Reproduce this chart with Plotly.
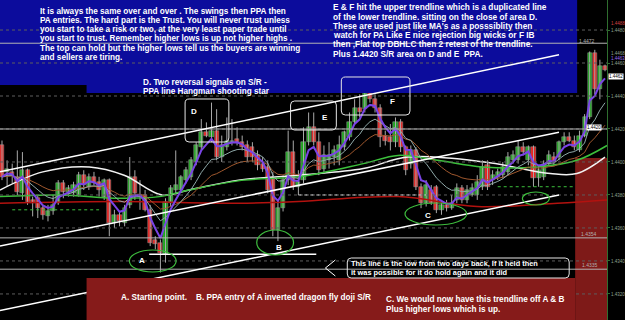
import plotly.graph_objects as go
import pandas as pd

# ---------------- data ----------------
open_ = [1.4410,1.4394,1.4394,1.4391,1.4381,1.4395,1.4377,1.4378,1.4372,1.4367,
         1.4370,1.4375,1.4387,1.4382,1.4381,1.4380,1.4392,1.4385,1.4391,1.4388,
         1.4379,1.4389,1.4363,1.4368,1.4363,1.4374,1.4391,1.4379,1.4380,1.4371,
         1.4353,1.4351,1.4344,1.4375,1.4383,1.4383,1.4389,1.4391,1.4400,1.4409,
         1.4418,1.4415,1.4419,1.4403,1.4409,1.4412,1.4414,1.4412,1.4410,1.4409,
         1.4404,1.4399,1.4397,1.4391,1.4359,1.4372,1.4389,1.4406,1.4385,1.4389,
         1.4412,1.4421,1.4412,1.4396,1.4401,1.4403,1.4401,1.4409,1.4415,1.4424,
         1.4433,1.4432,1.4442,1.4438,1.4433,1.4416,1.4415,1.4412,1.4424,1.4409,
         1.4399,1.4407,1.4385,1.4375,1.4383,1.4385,1.4371,1.4374,1.4372,1.4377,
         1.4384,1.4377,1.4380,1.4380,1.4385,1.4398,1.4389,1.4391,1.4392,1.4394,
         1.4401,1.4401,1.4409,1.4401,1.4409,1.4390,1.4391,1.4399,1.4403,1.4403,
         1.4412,1.4415,1.4413,1.4407,1.4416,1.4427,1.4466,1.4444,1.4458]
high = [1.4413,1.4401,1.4399,1.4407,1.4406,1.4396,1.4379,1.4380,1.4374,1.4374,
        1.4380,1.4389,1.4389,1.4386,1.4388,1.4394,1.4395,1.4393,1.4394,1.4391,
        1.4390,1.4390,1.4371,1.4370,1.4374,1.4403,1.4395,1.4389,1.4383,1.4374,
        1.4355,1.4353,1.4378,1.4386,1.4407,1.4392,1.4397,1.4403,1.4412,1.4426,
        1.4424,1.4436,1.4432,1.4416,1.4427,1.4426,1.4421,1.4416,1.4413,1.4412,
        1.4407,1.4403,1.4401,1.4394,1.4377,1.4392,1.4419,1.4413,1.4395,1.4421,
        1.4430,1.4430,1.4418,1.4410,1.4412,1.4410,1.4416,1.4419,1.4430,1.4438,
        1.4441,1.4445,1.4447,1.4441,1.4435,1.4419,1.4423,1.4427,1.4426,1.4410,
        1.4410,1.4409,1.4387,1.4389,1.4386,1.4386,1.4377,1.4377,1.4380,1.4387,
        1.4386,1.4386,1.4387,1.4392,1.4401,1.4401,1.4395,1.4396,1.4400,1.4406,
        1.4407,1.4413,1.4412,1.4410,1.4410,1.4398,1.4401,1.4407,1.4406,1.4413,
        1.4418,1.4418,1.4416,1.4419,1.4429,1.4467,1.4468,1.4462,1.4459]
low = [1.4389,1.4385,1.4387,1.4380,1.4377,1.4374,1.4367,1.4366,1.4365,1.4364,
       1.4368,1.4374,1.4378,1.4379,1.4379,1.4379,1.4383,1.4383,1.4386,1.4379,
       1.4377,1.4355,1.4360,1.4361,1.4361,1.4372,1.4377,1.4371,1.4370,1.4349,
       1.4347,1.4333,1.4339,1.4373,1.4381,1.4382,1.4387,1.4389,1.4398,1.4407,
       1.4415,1.4412,1.4401,1.4400,1.4407,1.4410,1.4410,1.4407,1.4400,1.4400,
       1.4395,1.4394,1.4381,1.4355,1.4352,1.4370,1.4386,1.4383,1.4380,1.4387,
       1.4410,1.4410,1.4392,1.4394,1.4396,1.4398,1.4398,1.4407,1.4413,1.4423,
       1.4427,1.4430,1.4436,1.4430,1.4409,1.4410,1.4407,1.4409,1.4406,1.4392,
       1.4396,1.4383,1.4372,1.4373,1.4374,1.4369,1.4368,1.4370,1.4371,1.4375,
       1.4375,1.4375,1.4379,1.4377,1.4383,1.4383,1.4386,1.4389,1.4390,1.4392,
       1.4399,1.4399,1.4404,1.4398,1.4385,1.4385,1.4389,1.4398,1.4398,1.4401,
       1.4410,1.4412,1.4407,1.4406,1.4415,1.4426,1.4441,1.4438,1.4455]
close = [1.4391,1.4396,1.4392,1.4382,1.4395,1.4376,1.4375,1.4372,1.4368,1.4370,
         1.4374,1.4387,1.4382,1.4384,1.4386,1.4392,1.4386,1.4391,1.4387,1.4383,
         1.4389,1.4363,1.4368,1.4364,1.4372,1.4391,1.4381,1.4380,1.4371,1.4351,
         1.4350,1.4345,1.4376,1.4384,1.4386,1.4391,1.4395,1.4401,1.4410,1.4418,
         1.4416,1.4419,1.4403,1.4410,1.4413,1.4413,1.4412,1.4409,1.4403,1.4403,
         1.4398,1.4396,1.4383,1.4359,1.4372,1.4389,1.4406,1.4385,1.4388,1.4412,
         1.4421,1.4412,1.4395,1.4404,1.4404,1.4407,1.4410,1.4418,1.4424,1.4433,
         1.4430,1.4442,1.4438,1.4433,1.4415,1.4413,1.4412,1.4424,1.4409,1.4395,
         1.4407,1.4385,1.4375,1.4386,1.4375,1.4371,1.4374,1.4372,1.4375,1.4384,
         1.4377,1.4383,1.4384,1.4388,1.4397,1.4385,1.4392,1.4394,1.4397,1.4403,
         1.4404,1.4409,1.4406,1.4409,1.4390,1.4395,1.4399,1.4404,1.4400,1.4412,
         1.4415,1.4413,1.4409,1.4416,1.4427,1.4466,1.4444,1.4458,1.4456]

# slow moving averages (candle index, price)
green_ma_x = [-0.4, 11.3, 23.0, 30.8, 36.6, 47.3, 58.0, 70.7, 77.5, 85.3, 94.0, 104.8, 112.5, 118.4]
green_ma_y = [1.4379, 1.4380, 1.4378, 1.4379, 1.4383, 1.4389, 1.4391, 1.4399, 1.4404, 1.4401, 1.4397, 1.4397, 1.4401, 1.4410]
white_ma_x = [-0.4, 8.0, 17.1, 23.9, 31.3, 36.6, 46.3, 58.0, 70.7, 79.4, 94.4, 107.3, 112.5, 118.0]
white_ma_y = [1.4383, 1.4394, 1.4397, 1.4392, 1.4380, 1.4383, 1.4389, 1.4392, 1.4396, 1.4403, 1.4400, 1.4393, 1.4393, 1.4403]
red_ma_x = [-0.4, 23.0, 46.3, 58.0, 77.5, 93.0, 108.7, 118.4]
red_ma_y = [1.4375, 1.4376, 1.4375, 1.4376, 1.4379, 1.4373, 1.4375, 1.4377]

# hand drawn trendlines (candle index, price)
upper_tl = ([-0.39, 109.0], [1.4394, 1.4465])
middle_tl = ([-0.39, 109.0], [1.4349, 1.4418])
lower_tl = ([-0.39, 109.0], [1.4310, 1.4380])
two_day_low = ([28.8, 61.5], [1.4344, 1.4344])
sr_levels = [1.4472, 1.4420, 1.4354, 1.4335]
axis_ticks = [1.4320, 1.4340, 1.4360, 1.4380, 1.4400, 1.4420, 1.4440, 1.4460, 1.4480]

para1 = ["It is always the same over and over . The swings then PPA then",
         "PA entries. The hard part is the Trust. You will never trust unless",
         "you start to take a risk or two, at the very least paper trade until",
         "you start to trust. Remember higher lows is up not higher highs .",
         "The top can hold but the higher lows tell us the buyers are winning",
         "and sellers are tiring."]
para2 = ["E & F hit the upper trendline which is a duplicated line",
         "of the lower trendline. sitting on the close of area D.",
         "These are used just like MA's as a posssiblity then",
         "watch for PA Like E nice rejection big wicks or F IB",
         "then ,Flat top DBHLC then 2 retest of the trendline.",
         "Plus 1.4420 S/R area on D and E&nbsp;&nbsp;PPA."]

# ---------------- figure ----------------
PW, PH = 610.0, 320.0
N = len(close)
idx = list(range(N))

def P(px, py):
    return px / PW, 1 - py / PH

fig = go.Figure()

# wicks
wx, wy = [], []
for i in idx:
    wx += [i, i, None]
    wy += [low[i], high[i], None]
fig.add_trace(go.Scatter(x=wx, y=wy, mode="lines", line=dict(color="#a9a9a9", width=1),
                         hoverinfo="skip"))

# bodies
for up, col in ((True, "#1fa51f"), (False, "#e8201e")):
    xs, bs, hs = [], [], []
    for i in idx:
        if (close[i] >= open_[i]) == up:
            xs.append(i)
            bs.append(min(open_[i], close[i]))
            hs.append(max(abs(close[i] - open_[i]), 0.00005))
    fig.add_trace(go.Bar(x=xs, y=hs, base=bs, width=0.8, marker=dict(color=col, line=dict(color="#9a9a9a", width=0.5))))

# moving averages
cs = pd.Series(close)
fig.add_trace(go.Scatter(x=red_ma_x, y=red_ma_y, mode="lines", line=dict(color="#b3120f", width=1.5, shape="spline")))
fig.add_trace(go.Scatter(x=white_ma_x, y=white_ma_y, mode="lines", line=dict(color="#f2f2f2", width=1.5, shape="spline")))
fig.add_trace(go.Scatter(x=green_ma_x, y=green_ma_y, mode="lines", line=dict(color="#3cc03c", width=1.5, shape="spline")))
fig.add_trace(go.Scatter(x=idx, y=cs.ewm(span=20, adjust=False).mean(), mode="lines", line=dict(color="#a0582e", width=1)))
fig.add_trace(go.Scatter(x=idx, y=cs.ewm(span=10, adjust=False).mean(), mode="lines", line=dict(color="#8fa9a9", width=1)))
fig.add_trace(go.Scatter(x=idx, y=cs.ewm(span=4, adjust=False).mean(), mode="lines", line=dict(color="#7a44e6", width=2)))

shapes = []
# right red zone (behind candles)
x0, _ = P(578, 0)
shapes.append(dict(type="rect", xref="paper", yref="paper", x0=x0, x1=1, y0=0, y1=P(0, 158)[1],
                   fillcolor="#7e1a18", line=dict(width=0), layer="below"))
# blue text panel
shapes.append(dict(type="rect", xref="paper", yref="paper", x0=0, x1=P(580, 0)[0], y0=P(0, 85)[1], y1=1,
                   fillcolor="#0c0c9c", line=dict(width=0)))
shapes.append(dict(type="rect", xref="paper", yref="paper", x0=P(87, 0)[0], x1=P(580, 0)[0], y0=P(0, 93)[1], y1=P(0, 85)[1],
                   fillcolor="#0c0c9c", line=dict(width=0)))
# dotted grid
for t in axis_ticks:
    shapes.append(dict(type="line", xref="paper", yref="y", x0=0, x1=1, y0=t, y1=t,
                       line=dict(color="#5e5e5e", width=1, dash="dot")))
# S/R levels
for t in sr_levels:
    shapes.append(dict(type="line", xref="paper", yref="y", x0=0, x1=1, y0=t, y1=t,
                       line=dict(color="#b4b4b4", width=1)))
# small dotted pivot lines
for (xa, xb, yv, c) in ((2, 19, 1.4371, "#3cc03c"), (58, 83, 1.4380, "#cfcfcf"), (97, 112, 1.4385, "#3cc03c")):
    shapes.append(dict(type="line", xref="x", yref="y", x0=xa, x1=xb, y0=yv, y1=yv,
                       line=dict(color=c, width=1, dash="dot")))
# trendlines
for (xs, ys) in (upper_tl, middle_tl, lower_tl, two_day_low):
    shapes.append(dict(type="line", xref="x", yref="y", x0=xs[0], x1=xs[1], y0=ys[0], y1=ys[1],
                       line=dict(color="white", width=1.5)))
# bottom red panel
shapes.append(dict(type="rect", xref="paper", yref="paper", x0=P(87, 0)[0], x1=x0, y0=0, y1=P(0, 278)[1],
                   fillcolor="#861b1a", line=dict(width=0)))

def rrect(ax, ay, bx, by, r=4):
    def p(x, y):
        u, v = P(x, y)
        return f"{u:.5f},{v:.5f}"
    return (f"M{p(ax + r, ay)} L{p(bx - r, ay)} Q{p(bx, ay)} {p(bx, ay + r)} L{p(bx, by - r)} "
            f"Q{p(bx, by)} {p(bx - r, by)} L{p(ax + r, by)} Q{p(ax, by)} {p(ax, by - r)} "
            f"L{p(ax, ay + r)} Q{p(ax, ay)} {p(ax + r, ay)} Z")

for box in ((186, 99, 230, 142), (292, 101, 338, 130), (343, 77, 412, 115), (349, 258, 572, 278)):
    shapes.append(dict(type="path", xref="paper", yref="paper", path=rrect(*box),
                       line=dict(color="#e6e6e6", width=1)))
# arrow head
a = P(337, 260); b = P(327, 268); c = P(337, 276)
shapes.append(dict(type="path", xref="paper", yref="paper",
                   path=f"M{a[0]},{a[1]} L{b[0]},{b[1]} L{c[0]},{c[1]}", line=dict(color="white", width=1)))
# ellipses
for (ax, ay, bx, by) in ((130, 250, 177, 272), (258, 230, 295, 255), (407, 203, 469, 225), (525, 192, 552, 205)):
    u0, v1 = P(ax, ay); u1, v0 = P(bx, by)
    shapes.append(dict(type="circle", xref="paper", yref="paper", x0=u0, x1=u1, y0=v0, y1=v1,
                       line=dict(color="#3dbb3d", width=1.2)))

ann = []
FONT = "Liberation Sans, Arial, sans-serif"

def txt(s, px, py, size=8.2, color="white", bold=True, xanchor="left", **kw):
    u, v = P(px, py)
    ann.append(dict(text=(f"<b>{s}</b>" if bold else s), x=u, y=v, xref="paper", yref="paper",
                    xanchor=xanchor, yanchor="middle", showarrow=False,
                    font=dict(family=FONT, size=size, color=color), **kw))

for k, s in enumerate(para1):
    txt(s, 38, 11 + 9.3 * k)
for k, s in enumerate(para2):
    txt(s, 333, 7.3 + 9.3 * k, size=8.3)
txt("D. Two reversal signals on S/R -", 142, 82)
txt("PPA line Hangman shooting star", 142, 91)
txt("A. Starting point.", 120, 297)
txt("B. PPA entry of A inverted dragon fly doji S/R", 195, 297)
txt("C. We would now have this trendline off A &amp; B", 386, 299)
txt("Plus higher lows which is up.", 386, 309)
txt("This line is the low from two days back, If it held then", 351, 263, size=7.4)
txt("it was possible for it do hold again and it did", 351, 272, size=7.4)
for s, px, py in (("D", 195, 111), ("E", 327, 117), ("F", 394, 101), ("A", 143, 260), ("B", 280, 247), ("C", 430, 215)):
    txt(s, px, py, size=8, xanchor="center")
# price labels
txt("1.4472", 590, 41, size=5, color="#b0b0b0", bold=False, xanchor="center")
txt("1.4354", 592, 234, size=5, color="#b0b0b0", bold=False, xanchor="center")
txt("1.4335", 593, 265, size=5, color="#b0b0b0", bold=False, xanchor="center")
txt("1.4488", 612, 23, size=4.5, color="#d04040", bold=False)
txt("1.4468", 612, 53, size=4.5, color="#8fa08f", bold=False)
txt("1.4463", 612, 58, size=4.5, color="#9a6af0", bold=False)
txt("1.4462", 611, 76, size=4.5, color="black", bold=False, bgcolor="white", borderpad=0)
txt("1.4420", 597, 127, size=4.5, color="black", bold=False, xanchor="center", bgcolor="white", borderpad=0)

fig.update_layout(
    width=625, height=320, margin=dict(l=0, r=15, t=0, b=0),
    paper_bgcolor="black", plot_bgcolor="black", showlegend=False,
    barmode="overlay", bargap=0, shapes=shapes, annotations=ann,
    xaxis=dict(range=[-0.39, 118.39], visible=False, fixedrange=True),
    yaxis=dict(range=[1.43042, 1.44982], side="right", showgrid=False, zeroline=False,
               showline=True, linecolor="#2f6e2f", linewidth=1,
               tickvals=axis_ticks, ticktext=[f"{t:.4f}" for t in axis_ticks],
               ticks="outside", ticklen=2, tickcolor="#2f6e2f",
               tickfont=dict(family=FONT, size=4.5, color="#8fa08f")),
)
fig.write_html("out.html")
